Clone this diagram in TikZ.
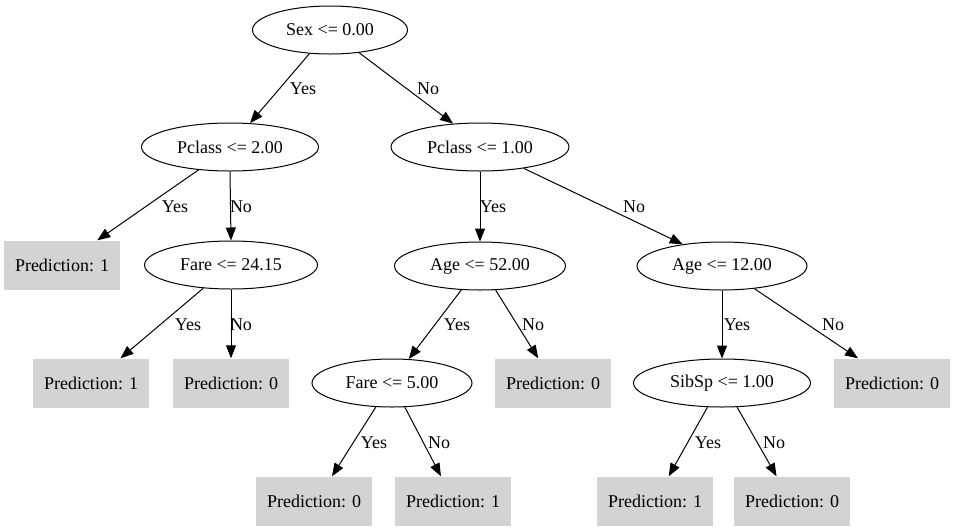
\documentclass[tikz,border=0pt]{standalone}
\usepackage{fontspec}
\setmainfont{Liberation Serif}
\usetikzlibrary{shapes.geometric,arrows.meta}
\definecolor{leafgray}{RGB}{211,211,211}
\begin{document}
\begin{tikzpicture}[x=1pt,y=-1pt,
  every node/.style={font=\fontsize{18}{21}\selectfont},
  split/.style={draw,ellipse,line width=1pt,inner sep=0pt,minimum height=48pt},
  leaf/.style={rectangle,fill=leafgray,inner sep=0pt,minimum width=116pt,minimum height=49pt},
  edge/.style={line width=1pt,-{Triangle[length=13pt,width=10pt]}},
  lbl/.style={inner sep=0pt}]
\useasboundingbox (0,0) rectangle (954,531);
% split nodes
\node[split,minimum width=155pt] (sex) at (330,30) {Sex <= 0.00};
\node[split,minimum width=177pt] (pc2) at (230,147) {Pclass <= 2.00};
\node[split,minimum width=178pt] (pc1) at (480,147) {Pclass <= 1.00};
\node[split,minimum width=173pt] (f24) at (231,265) {Fare <= 24.15};
\node[split,minimum width=171pt] (a52) at (480,266) {Age <= 52.00};
\node[split,minimum width=170pt] (a12) at (722,266) {Age <= 12.00};
\node[split,minimum width=160pt] (f5) at (392,383) {Fare <= 5.00};
\node[split,minimum width=177pt] (sib) at (722,383) {SibSp <= 1.00};
% leaves
\node[leaf] (p1a) at (62,265) {Prediction: 1};
\node[leaf] (p1b) at (91,383) {Prediction: 1};
\node[leaf] (p0a) at (231,383) {Prediction: 0};
\node[leaf] (p0b) at (553,383) {Prediction: 0};
\node[leaf] (p0c) at (892,383) {Prediction: 0};
\node[leaf] (p0d) at (314,501) {Prediction: 0};
\node[leaf] (p1c) at (453,501) {Prediction: 1};
\node[leaf] (p1d) at (655,501) {Prediction: 1};
\node[leaf] (p0e) at (792,501) {Prediction: 0};
% edges
\draw[edge] (sex.229) -- (pc2.50);
\draw[edge] (sex.322) -- (pc1.139.4);
\draw[edge] (pc2.216.6) -- (p1a.35.5);
\draw[edge] (pc2.south) -- (f24.north);
\draw[edge] (pc1.south) -- (a52.north);
\draw[edge] (pc1.334) -- (a12.151.3);
\draw[edge] (f24.220.6) -- (p1b.40.8);
\draw[edge] (f24.south) -- (p0a.north);
\draw[edge] (a52.232) -- (f5.55.8);
\draw[edge] (a52.303) -- (p0b.121);
\draw[edge] (a12.south) -- (sib.north);
\draw[edge] (a12.325.5) -- (p0c.144.5);
\draw[edge] (f5.236.3) -- (p0d.54.7);
\draw[edge] (f5.298.4) -- (p1c.116.6);
\draw[edge] (sib.239.7) -- (p1d.61.6);
\draw[edge] (sib.302) -- (p0e.122);
% edge labels
\node[lbl] (l1) at (303,89) {Yes};
\node[lbl] (l2) at (428,89) {No};
\node[lbl] (l3) at (175,207) {Yes};
\node[lbl] (l4) at (241,207) {No};
\node[lbl] (l5) at (493,207) {Yes};
\node[lbl] (l6) at (634,207) {No};
\node[lbl] (l7) at (188,325) {Yes};
\node[lbl] (l8) at (241,325) {No};
\node[lbl] (l9) at (457,325) {Yes};
\node[lbl] (l10) at (533,325) {No};
\node[lbl] (l11) at (737,325) {Yes};
\node[lbl] (l12) at (833,325) {No};
\node[lbl] (l13) at (374,443) {Yes};
\node[lbl] (l14) at (439,443) {No};
\node[lbl] (l15) at (708,443) {Yes};
\node[lbl] (l16) at (774,443) {No};
\end{tikzpicture}
\end{document}
